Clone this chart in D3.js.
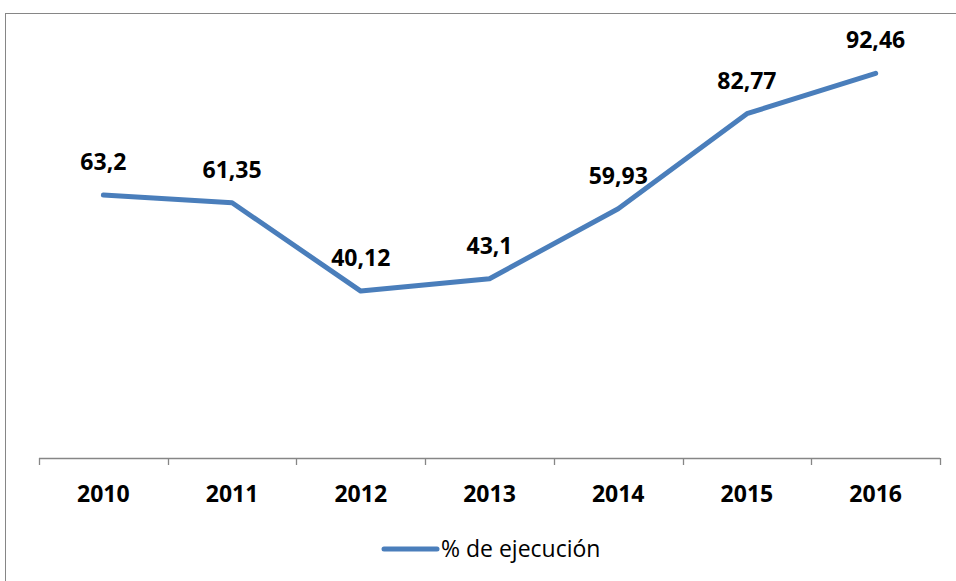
<!DOCTYPE html>
<html>
<head>
<meta charset="utf-8">
<script src="https://cdn.jsdelivr.net/npm/d3@7"></script>
<style>
  html, body { margin: 0; padding: 0; background: #fff; }
  svg { display: block; }
</style>
</head>
<body>
<div id="chart"></div>
<script>
// Data
const years = ['2010', '2011', '2012', '2013', '2014', '2015', '2016'];
const ejecucion = [63.2, 61.35, 40.12, 43.1, 59.93, 82.77, 92.46];
const labels = ['63,2', '61,35', '40,12', '43,1', '59,93', '82,77', '92,46'];
const seriesName = '% de ejecución';

const width = 956, height = 581;
const margin = { top: 42, right: 16, bottom: 123, left: 39 };
const lineColor = '#4A7EBB';
const axisColor = '#868686';
const font = '"Open Sans", "Noto Sans", sans-serif';

const svg = d3.select('#chart').append('svg')
    .attr('width', width)
    .attr('height', height);

// Outer frame
svg.append('rect')
    .attr('x', 5.5)
    .attr('y', 13.5)
    .attr('width', width)
    .attr('height', height)
    .attr('fill', 'none')
    .attr('stroke', axisColor)
    .attr('stroke-width', 1);

const x = d3.scaleBand()
    .domain(years)
    .range([margin.left, width - margin.right]);

const y = d3.scaleLinear()
    .domain([0, 100])
    .range([height - margin.bottom, margin.top]);

// Category axis with ticks between categories
const axisY = y(0);
const g = svg.append('g');
g.append('line')
    .attr('x1', x.range()[0]).attr('x2', x.range()[1])
    .attr('y1', axisY + 0.5).attr('y2', axisY + 0.5)
    .attr('stroke', axisColor).attr('stroke-width', 1.3);

const tickPos = years.map(d => x(d)).concat([x.range()[1]]);
g.selectAll('.tick')
    .data(tickPos)
    .enter()
    .append('line')
    .attr('x1', d => Math.round(d) + 0.5).attr('x2', d => Math.round(d) + 0.5)
    .attr('y1', axisY).attr('y2', axisY + 7)
    .attr('stroke', axisColor).attr('stroke-width', 1.3);

g.selectAll('.year')
    .data(years)
    .enter()
    .append('text')
    .attr('x', d => x(d) + x.bandwidth() / 2)
    .attr('y', axisY + 44)
    .attr('text-anchor', 'middle')
    .attr('font-family', font)
    .attr('font-weight', 'bold')
    .attr('font-size', '23px')
    .attr('fill', '#000')
    .text(d => d);

// Line
const line = d3.line()
    .x((d, i) => x(years[i]) + x.bandwidth() / 2)
    .y(d => y(d));

svg.append('path')
    .datum(ejecucion)
    .attr('d', line)
    .attr('fill', 'none')
    .attr('stroke', lineColor)
    .attr('stroke-width', 5)
    .attr('stroke-linejoin', 'round')
    .attr('stroke-linecap', 'round');

// Data labels
svg.selectAll('.label')
    .data(ejecucion)
    .enter()
    .append('text')
    .attr('x', (d, i) => x(years[i]) + x.bandwidth() / 2)
    .attr('y', d => y(d) - 25)
    .attr('text-anchor', 'middle')
    .attr('font-family', font)
    .attr('font-weight', 'bold')
    .attr('font-size', '23px')
    .attr('fill', '#000')
    .text((d, i) => labels[i]);

// Legend
const legend = svg.append('g');
legend.append('line')
    .attr('x1', 384).attr('x2', 437)
    .attr('y1', 549).attr('y2', 549)
    .attr('stroke', lineColor)
    .attr('stroke-width', 5)
    .attr('stroke-linecap', 'round');
legend.append('text')
    .attr('x', 441)
    .attr('y', 557)
    .attr('font-family', font)
    .attr('font-size', '23px')
    .attr('fill', '#000')
    .text(seriesName);
</script>
</body>
</html>
